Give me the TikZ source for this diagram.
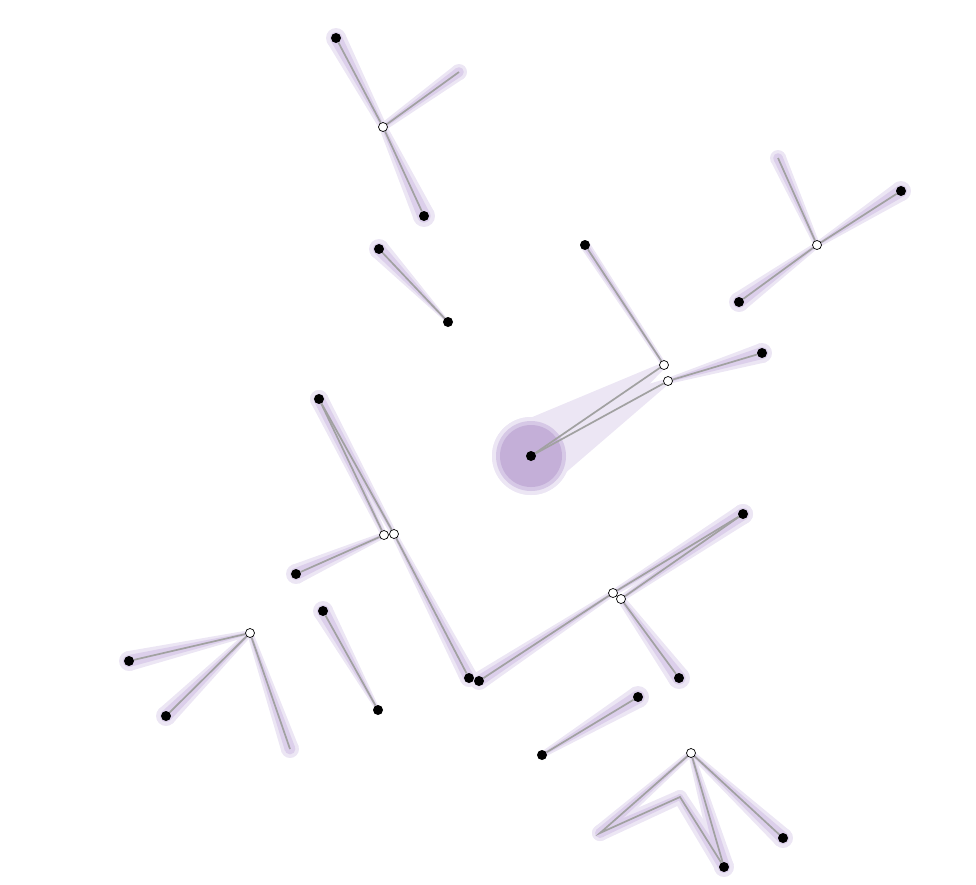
\documentclass[tikz,border=0pt]{standalone}
\usetikzlibrary{calc,backgrounds}
\definecolor{haloout}{RGB}{236,230,244}
\definecolor{haloin}{RGB}{220,207,235}
\definecolor{blobmid}{RGB}{214,200,230}
\definecolor{blobcore}{RGB}{196,175,216}

% tapered halo round a segment: colour, fat end, thin end, radii
\newcommand{\taper}[5]{%
  \fill[#1] (#2.center) circle (#4pt);
  \fill[#1] (#3.center) circle (#5pt);
  \fill[#1] let \p1=($(#3.center)-(#2.center)$),
    \n1={asin((#4-#5)/veclen(\x1,\y1))} in
    ($(#2.center)!#4pt!90+\n1:(#3.center)$) --
    ($(#3.center)!#5pt!\n1-90:(#2.center)$) --
    ($(#3.center)!#5pt!90-\n1:(#2.center)$) --
    ($(#2.center)!#4pt!-90-\n1:(#3.center)$) -- cycle;}

\newcommand{\halolist}{a1/w1/10/4, a2/w1/11/4, a3/w1/8/4,
  b1/b2/10/1.5, c1/w2/5/2.5, c2/w3/10/3,
  d1/w4/10/3, d2/w4/10/3, d3/w4/8/3,
  e1/w5/9/3, e1/w6/9/3, e2/w5/10/3, e3/w6/9/3,
  f1/w7/9/3, f2/w7/10/3, f2/w8/10/3, f3/w8/11/4,
  g1/w9/10/3, g2/w9/10/3, g3/w9/9/3,
  h1/h2/10/2, i1/i2/11/3,
  j1/w10/10/3, j2/w10/10/3, p1/w10/8/3, p1/p2/8/7, j1/p2/9/7}

\begin{document}
\begin{tikzpicture}[
  x=1pt, y=-1pt,
  leaf/.style={circle, fill=black, inner sep=0pt, minimum size=10pt},
  joint/.style={circle, draw=black, fill=white, line width=0.7pt,
                inner sep=0pt, minimum size=9pt},
  edge/.style={draw=black!37, line width=1.7pt}
]
\useasboundingbox (0,0) rectangle (976,884);

% top group
\node[joint] (w1) at (383,127) {};
\node[leaf]  (a1) at (336,38)  {};
\node[leaf]  (a2) at (424,216) {};
\coordinate  (a3) at (459,72);

\node[leaf] (b1) at (379,249) {};
\node[leaf] (b2) at (448,322) {};

% blob and its two joints
\node[leaf]  (k0) at (531,456) {};
\node[joint] (w2) at (664,365) {};
\node[joint] (w3) at (668,381) {};
\node[leaf]  (c1) at (585,245) {};
\node[leaf]  (c2) at (762,353) {};

% top right
\node[joint] (w4) at (817,245) {};
\node[leaf]  (d1) at (901,191) {};
\node[leaf]  (d2) at (739,302) {};
\coordinate  (d3) at (778,158);

% middle
\node[leaf]  (e1) at (319,399) {};
\node[joint] (w5) at (384,535) {};
\node[joint] (w6) at (394,534) {};
\node[leaf]  (e2) at (296,574) {};
\node[leaf]  (e3) at (469,678) {};

\node[leaf]  (f1) at (479,681) {};
\node[joint] (w7) at (613,593) {};
\node[joint] (w8) at (621,599) {};
\node[leaf]  (f2) at (743,514) {};
\node[leaf]  (f3) at (679,678) {};

% lower left
\node[joint] (w9) at (250,633) {};
\node[leaf]  (g1) at (129,661) {};
\node[leaf]  (g2) at (166,716) {};
\coordinate  (g3) at (290,749);

\node[leaf] (h1) at (323,611) {};
\node[leaf] (h2) at (378,710) {};

\node[leaf] (i1) at (638,697) {};
\node[leaf] (i2) at (542,755) {};

% bottom
\node[joint] (w10) at (691,753) {};
\node[leaf]  (j1)  at (724,867) {};
\node[leaf]  (j2)  at (783,838) {};
\coordinate  (p1)  at (600,833);
\coordinate  (p2)  at (680,797);

\begin{scope}[on background layer]
  \foreach \ha/\hb/\hra/\hrb in \halolist {\taper{haloout}{\ha}{\hb}{\hra}{\hrb}}
  \taper{haloout}{k0}{w2}{39}{3}
  \taper{haloout}{k0}{w3}{39}{3}
  \foreach \ha/\hb/\hra/\hrb [evaluate=\hra as \ira using 0.6*\hra,
      evaluate=\hrb as \irb using 0.4*\hrb] in \halolist
    {\taper{haloin}{\ha}{\hb}{\ira}{\irb}}
  \fill[blobmid]  (k0.center) circle (35pt);
  \fill[blobcore] (k0.center) circle (31pt);

  \draw[edge] (w1) -- (a1);
  \draw[edge] (w1) -- (a2);
  \draw[edge] (w1) -- (a3);
  \draw[edge] (b1) -- (b2);
  \draw[edge] (w2) -- (c1);
  \draw[edge] (w3) -- (c2);
  \draw[edge] (k0) -- (w2);
  \draw[edge] (k0) -- (w3);
  \draw[edge] (w4) -- (d1);
  \draw[edge] (w4) -- (d2);
  \draw[edge] (w4) -- (d3);
  \draw[edge] (e1) -- (w5);
  \draw[edge] (e1) -- (w6);
  \draw[edge] (w5) -- (e2);
  \draw[edge] (w6) -- (e3);
  \draw[edge] (w7) -- (f1);
  \draw[edge] (w7) -- (f2);
  \draw[edge] (w8) -- (f2);
  \draw[edge] (w8) -- (f3);
  \draw[edge] (w9) -- (g1);
  \draw[edge] (w9) -- (g2);
  \draw[edge] (w9) -- (g3);
  \draw[edge] (h1) -- (h2);
  \draw[edge] (i1) -- (i2);
  \draw[edge] (w10) -- (j1);
  \draw[edge] (w10) -- (j2);
  \draw[edge] (w10) -- (p1) -- (p2) -- (j1);
\end{scope}
\end{tikzpicture}
\end{document}
